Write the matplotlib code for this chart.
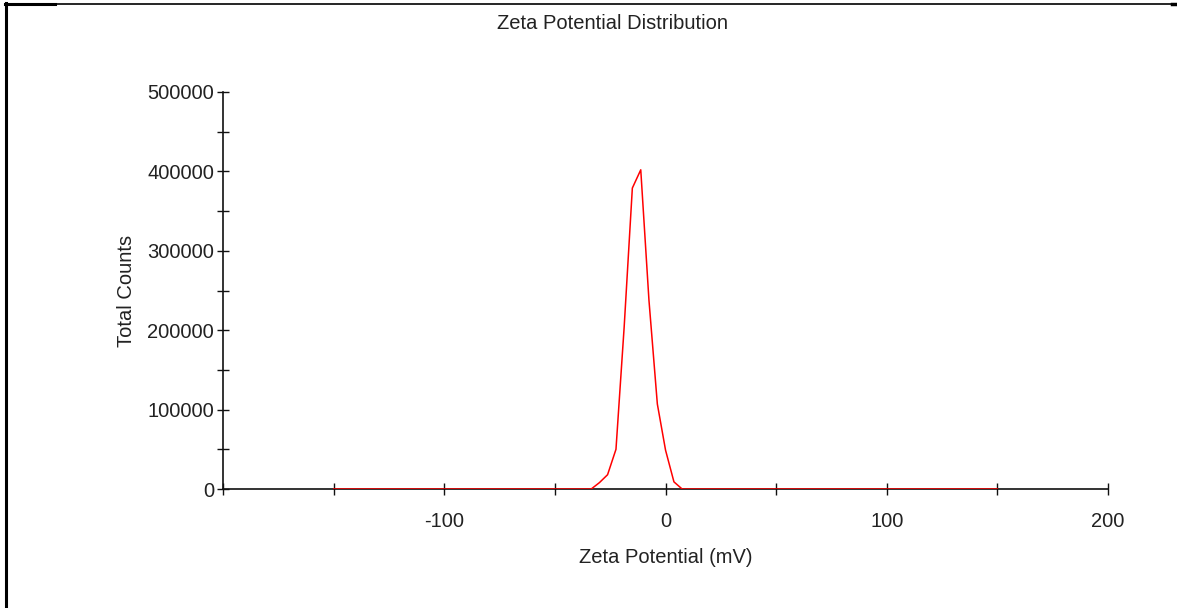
import numpy as np
import matplotlib.pyplot as plt
from matplotlib.lines import Line2D
from matplotlib.ticker import MultipleLocator, FixedLocator

plt.rcParams['font.family'] = ['Liberation Sans', 'DejaVu Sans']

# Zeta potential (mV) and total counts
zeta_mv = [-150.0, -33.6, -29.9, -26.2, -22.4, -18.7, -15.0, -11.2,
           -7.5, -3.7, 0.0, 3.8, 7.5, 150.0]
total_counts = [0, 0, 8000, 18000, 50000, 204000, 379000, 402000,
                238000, 107000, 49000, 9000, 0, 0]

x_labeled_ticks = [-100, 0, 100, 200]
y_ticks = [0, 100000, 200000, 300000, 400000, 500000]

fig = plt.figure(figsize=(11.77, 6.08), dpi=100)
ax = fig.add_axes([0.1895, 0.1957, 0.7519, 0.6530])

ax.plot(zeta_mv, total_counts, color='#ff0000', lw=1.1, zorder=3)

ax.set_xlim(-200, 200)
ax.set_ylim(0, 500000)
for side in ['top', 'right']:
    ax.spines[side].set_visible(False)
for side in ['left', 'bottom']:
    ax.spines[side].set_linewidth(1.2)
    ax.spines[side].set_color('#111111')

ax.xaxis.set_major_locator(FixedLocator([-200] + x_labeled_ticks))
ax.set_xticklabels([''] + [str(v) for v in x_labeled_ticks])
ax.xaxis.set_minor_locator(MultipleLocator(50))
ax.yaxis.set_major_locator(FixedLocator(y_ticks))
ax.set_yticklabels([str(v) for v in y_ticks])
ax.yaxis.set_minor_locator(MultipleLocator(50000))

ax.tick_params(axis='both', which='both', direction='inout', length=9,
               width=1.0, color='#111111', labelsize=14.5, labelcolor='#222222')
ax.tick_params(axis='x', which='both', pad=12)
ax.tick_params(axis='y', which='both', pad=2)

fig.text(0.52, 0.961, 'Zeta Potential Distribution', ha='center', va='center',
         fontsize=14.5, color='#222222')
ax.set_xlabel('Zeta Potential (mV)', fontsize=14.5, color='#222222', labelpad=12)
ax.set_ylabel('Total Counts', fontsize=14.5, color='#222222', labelpad=8)

# frame from the screenshot crop
fig.add_artist(Line2D([6 / 1177, 6 / 1177], [0, 1 - 3 / 608], color='black',
                      lw=2.2, transform=fig.transFigure))
fig.add_artist(Line2D([5 / 1177, 55 / 1177], [1 - 3.5 / 608, 1 - 3.5 / 608],
                      color='black', lw=2.2, transform=fig.transFigure))
fig.add_artist(Line2D([55 / 1177, 1172 / 1177], [1 - 3.5 / 608, 1 - 3.5 / 608],
                      color='black', lw=1.2, transform=fig.transFigure))
fig.add_artist(Line2D([1172 / 1177, 1177 / 1177], [1 - 4 / 608, 1 - 4 / 608],
                      color='black', lw=2.5, transform=fig.transFigure))

fig.savefig('out.png', dpi=100)
